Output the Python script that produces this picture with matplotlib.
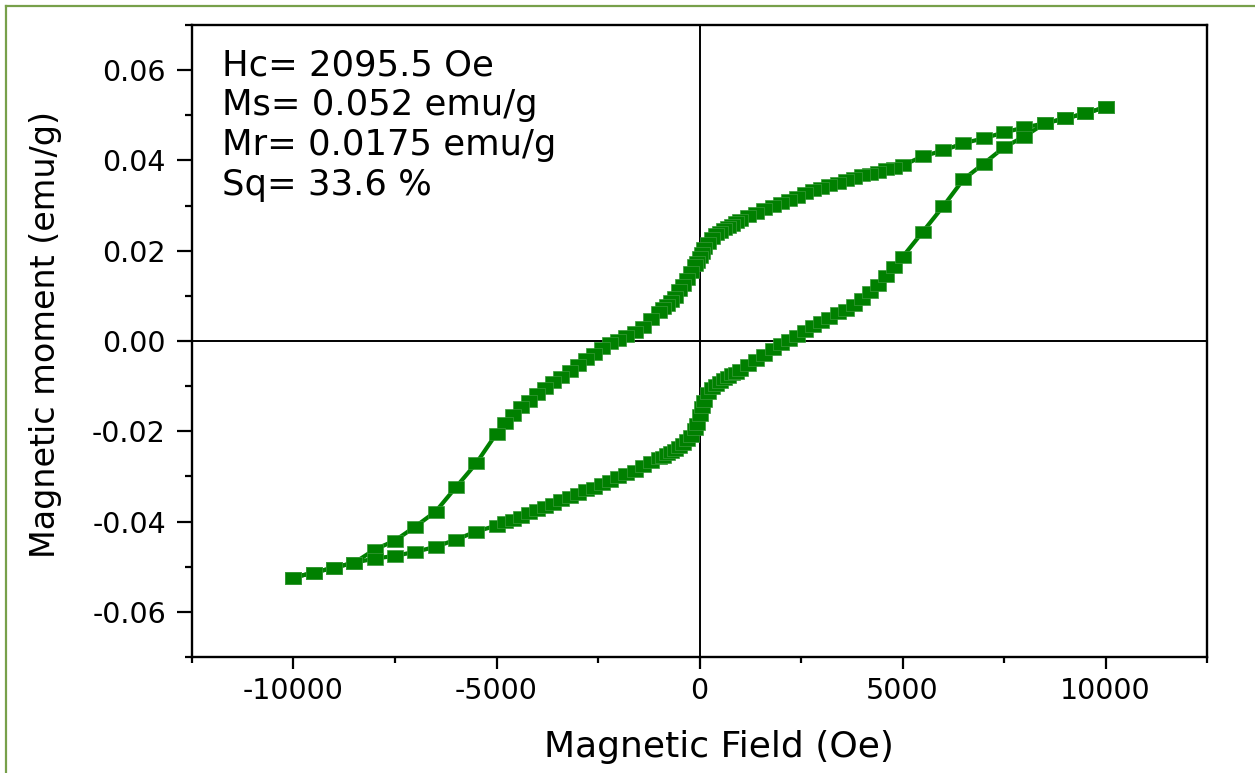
import matplotlib
matplotlib.use('Agg')
import matplotlib.pyplot as plt
from matplotlib.ticker import MultipleLocator, FormatStrFormatter
from matplotlib.lines import Line2D

plt.rcParams['font.family'] = ['DejaVu Sans']
plt.rcParams['axes.unicode_minus'] = False

# descending branch (field from +10000 down to -10000)
H_down = [10000, 9500, 9000, 8500, 8000, 7500, 7000, 6500, 6000, 5500, 5000,
          4800, 4600, 4400, 4200, 4000, 3800, 3600, 3400, 3200, 3000,
          2800, 2600, 2400, 2200, 2000, 1800, 1600, 1400, 1200, 1000,
          900, 800, 700, 600, 500, 400, 300, 200, 100, 50, 0,
          -50, -100, -200, -300, -400, -500, -600, -700, -800, -900, -1000,
          -1200, -1400, -1600, -1800, -2000, -2200, -2400, -2600, -2800, -3000,
          -3200, -3400, -3600, -3800, -4000, -4200, -4400, -4600, -4800, -5000,
          -5500, -6000, -6500, -7000, -7500, -8000, -8500, -9000, -9500, -10000]
M_down = [0.0518, 0.0504, 0.0493, 0.0482, 0.0473, 0.0462, 0.0449, 0.0438, 0.0422, 0.0409, 0.0389,
          0.0384, 0.0380, 0.0375, 0.0371, 0.0367, 0.0361, 0.0356, 0.0351, 0.0346, 0.0340,
          0.0334, 0.0327, 0.0320, 0.0313, 0.0306, 0.0299, 0.0292, 0.0284, 0.0277, 0.0268,
          0.0263, 0.0258, 0.0253, 0.0248, 0.0242, 0.0236, 0.0228, 0.0218, 0.0205, 0.0196, 0.0185,
          0.0176, 0.0168, 0.0152, 0.0137, 0.0124, 0.0112, 0.0098, 0.0088, 0.0079, 0.0072, 0.0064,
          0.0048, 0.0032, 0.0020, 0.0010, 0.0003, -0.0005, -0.0015, -0.0028, -0.0040, -0.0053,
          -0.0066, -0.0079, -0.0091, -0.0104, -0.0118, -0.0132, -0.0147, -0.0164, -0.0181, -0.0205,
          -0.0271, -0.0324, -0.0378, -0.0411, -0.0442, -0.0462, -0.0491, -0.0502, -0.0513, -0.0524]

# ascending branch (field from -10000 up to +10000)
H_up = [-10000, -9500, -9000, -8500, -8000, -7500, -7000, -6500, -6000, -5500, -5000,
        -4800, -4600, -4400, -4200, -4000, -3800, -3600, -3400, -3200, -3000,
        -2800, -2600, -2400, -2200, -2000, -1800, -1600, -1400, -1200, -1000,
        -900, -800, -700, -600, -500, -400, -300, -200, -100, -50, 0,
        50, 100, 200, 300, 400, 500, 600, 700, 800, 900, 1000,
        1200, 1400, 1600, 1800, 2000, 2200, 2400, 2600, 2800, 3000,
        3200, 3400, 3600, 3800, 4000, 4200, 4400, 4600, 4800, 5000,
        5500, 6000, 6500, 7000, 7500, 8000, 8500, 9000, 9500, 10000]
M_up = [-0.0524, -0.0513, -0.0502, -0.0491, -0.0482, -0.0476, -0.0467, -0.0456, -0.0440, -0.0422, -0.0409,
        -0.0402, -0.0397, -0.0390, -0.0382, -0.0375, -0.0368, -0.0360, -0.0353, -0.0346, -0.0339,
        -0.0331, -0.0325, -0.0317, -0.0310, -0.0302, -0.0294, -0.0287, -0.0278, -0.0269, -0.0260,
        -0.0256, -0.0251, -0.0246, -0.0241, -0.0235, -0.0228, -0.0220, -0.0210, -0.0196, -0.0184, -0.0165,
        -0.0146, -0.0132, -0.0115, -0.0104, -0.0097, -0.0090, -0.0084, -0.0079, -0.0074, -0.0070, -0.0065,
        -0.0053, -0.0042, -0.0030, -0.0018, -0.0007, 0.0002, 0.0012, 0.0023, 0.0033, 0.0043,
        0.0052, 0.0061, 0.0069, 0.0079, 0.0093, 0.0108, 0.0125, 0.0143, 0.0163, 0.0186,
        0.0242, 0.0298, 0.0358, 0.0393, 0.0429, 0.0453, 0.0482, 0.0493, 0.0504, 0.0518]

info_lines = ['Hc= 2095.5 Oe', 'Ms= 0.052 emu/g', 'Mr= 0.0175 emu/g', 'Sq= 33.6 %']

green = '#008000'
rect = [(-1.33, -1), (1.33, -1), (1.33, 1), (-1.33, 1), (-1.33, -1)]

fig = plt.figure(figsize=(12.55, 7.73), dpi=100)
ax = fig.add_axes([192/1255, 1-657/773, (1207-192)/1255, (657-25)/773])

ax.axhline(0, color='black', lw=1.4, zorder=1)
ax.axvline(0, color='black', lw=1.4, zorder=1)

for H, M in [(H_down, M_down), (H_up, M_up)]:
    ax.plot(H, M, color=green, lw=3.0, marker=rect, ms=12,
            mfc=green, mec='#3a9a3a', mew=0.5, zorder=3)

ax.set_xlim(-12500, 12500)
ax.set_ylim(-0.07, 0.07)
ax.xaxis.set_major_locator(MultipleLocator(5000))
ax.xaxis.set_minor_locator(MultipleLocator(2500))
ax.yaxis.set_major_locator(MultipleLocator(0.02))
ax.yaxis.set_minor_locator(MultipleLocator(0.01))
ax.yaxis.set_major_formatter(FormatStrFormatter('%.2f'))
ax.set_yticks([-0.06, -0.04, -0.02, 0.0, 0.02, 0.04, 0.06])

ax.tick_params(axis='x', which='major', direction='out', length=8.6, width=1.6,
               labelsize=20.5, pad=6)
ax.tick_params(axis='x', which='minor', direction='out', length=4.5, width=1.6)
ax.tick_params(axis='y', which='major', direction='out', length=10.8, width=1.6,
               labelsize=20.5, pad=8)
ax.tick_params(axis='y', which='minor', direction='out', length=5, width=1.6)
for s in ax.spines.values():
    s.set_linewidth(1.7)

ax.set_xlabel('Magnetic Field (Oe)', fontsize=26)
ax.xaxis.set_label_coords(0.519, -0.115)
ax.set_ylabel('Magnetic moment (emu/g)', fontsize=24)
ax.yaxis.set_label_coords(-0.128, 0.51)

baselines = [75, 115, 155, 195]
for txt, py in zip(info_lines, baselines):
    ax.text((222-192)/1015, (657-py)/632, txt, transform=ax.transAxes,
            fontsize=25.5, ha='left', va='baseline')

# outer frame of the picture
fig.add_artist(Line2D([6/1255, 6/1255], [0, 1-6/773], transform=fig.transFigure,
                      color='#77a04a', lw=1.6))
fig.add_artist(Line2D([6/1255, 1], [1-6/773, 1-6/773], transform=fig.transFigure,
                      color='#77a04a', lw=1.6))

fig.savefig('out.png', dpi=100)
